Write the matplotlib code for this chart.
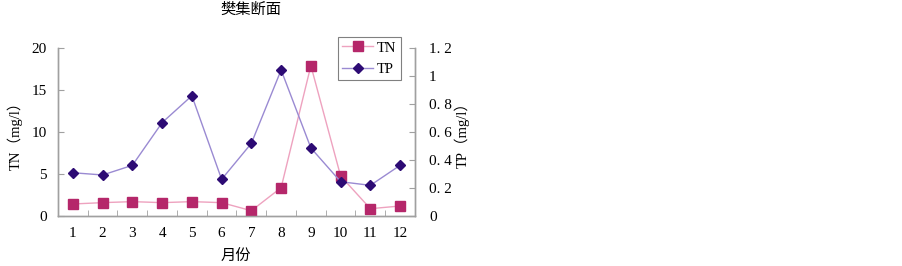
import matplotlib
matplotlib.use("Agg")
import matplotlib.pyplot as plt
import numpy as np

plt.rcParams['font.family'] = ['Liberation Serif', 'Noto Sans CJK SC', 'DejaVu Sans']

months = [1, 2, 3, 4, 5, 6, 7, 8, 9, 10, 11, 12]
month_labels = [str(m) for m in months]
tn = [1.43, 1.59, 1.71, 1.59, 1.71, 1.59, 0.63, 3.37, 17.9, 4.76, 0.87, 1.19]
tp = [0.309, 0.293, 0.362, 0.667, 0.859, 0.262, 0.519, 1.043, 0.486, 0.245, 0.219, 0.362]
left_ticks = [0, 5, 10, 15, 20]
left_labels = ['0', '5', '10', '15', '20']
right_ticks = [0, 0.2, 0.4, 0.6, 0.8, 1.0, 1.2]
right_labels = ['0', '0. 2', '0. 4', '0. 6', '0. 8', '1', '1. 2']

W, H = 903, 266
fig = plt.figure(figsize=(W / 100, H / 100), dpi=100)
ax = fig.add_axes([58 / W, 1 - 216 / H, (415 - 58) / W, (216 - 48) / H])
ax2 = ax.twinx()

axis_col = '#a0a0a0'
tn_line, tn_mark = '#eea2bf', '#b5276a'
tp_line, tp_mark = '#9a8ad2', '#2d0b74'

l1, = ax.plot(months, tn, color=tn_line, lw=1.0, marker='s', markersize=6.5,
              markerfacecolor=tn_mark, markeredgecolor=tn_mark, label='TN', zorder=3)
l2, = ax2.plot(months, tp, color=tp_line, lw=1.0, marker='D', markersize=4.8,
               markerfacecolor=tp_mark, markeredgecolor=tp_mark, label='TP', zorder=3)

ax.set_xlim(0.5, 12.5)
ax.set_ylim(0, 20)
ax2.set_ylim(0, 1.2)

ax.set_xticks(months)
ax.set_xticklabels(month_labels, fontsize=11)
ax.set_xticks(np.arange(1.5, 12, 1.0), minor=True)
ax.tick_params(axis='x', which='major', length=0, pad=8, colors='#000000')
ax.tick_params(axis='x', which='minor', length=4, direction='in', color=axis_col)

ax.set_yticks(left_ticks)
ax.set_yticklabels(left_labels, fontsize=11)
ax.tick_params(axis='y', direction='in', length=4, color=axis_col, pad=8)
ax2.set_yticks(right_ticks)
ax2.set_yticklabels(right_labels, fontsize=11)
ax2.tick_params(axis='y', direction='in', length=4, color=axis_col, pad=10)

for a in (ax, ax2):
    a.spines['top'].set_visible(False)
    for s in ('left', 'right', 'bottom'):
        a.spines[s].set_color(axis_col)
        a.spines[s].set_linewidth(1.0)

fig.text(251 / W, 1 - 10 / H, '樊集断面', ha='center', va='center', fontsize=11)
fig.text(236 / W, 1 - 257 / H, '月份', ha='center', va='center', fontsize=11)
fig.text(15 / W, 1 - 132 / H, 'TN（mg/l）', ha='center', va='center', rotation=90, fontsize=10.5)
fig.text(462 / W, 1 - 132 / H, 'TP（mg/l）', ha='center', va='center', rotation=90, fontsize=10.5)

leg = ax.legend(handles=[l1, l2], loc='upper left',
                bbox_to_anchor=(338 / W, 1 - 37 / H), bbox_transform=fig.transFigure,
                fontsize=10.5, frameon=True, fancybox=False, framealpha=1,
                edgecolor='#808080', handlelength=2.1, handletextpad=0.25,
                borderpad=0.3, labelspacing=0.55, borderaxespad=0)
leg.get_frame().set_linewidth(0.8)
leg.set_zorder(10)

fig.savefig('out.png', dpi=100)
